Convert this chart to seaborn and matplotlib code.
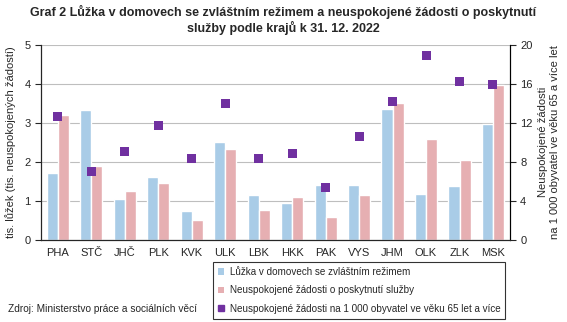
import pandas as pd
import seaborn as sns
import matplotlib.pyplot as plt
import numpy as np
from matplotlib.patches import Patch
from matplotlib.lines import Line2D

# values
kraje = ["PHA", "STČ", "JHČ", "PLK", "KVK", "ULK", "LBK", "HKK", "PAK", "VYS", "JHM", "OLK", "ZLK", "MSK"]
luzka = [1.71, 3.32, 1.05, 1.61, 0.74, 2.51, 1.15, 0.95, 1.41, 1.41, 3.35, 1.18, 1.38, 2.97]
zadosti = [3.20, 1.89, 1.25, 1.46, 0.51, 2.34, 0.77, 1.10, 0.59, 1.15, 3.51, 2.59, 2.05, 3.97]
na1000 = [12.6, 7.0, 9.1, 11.7, 8.3, 14.0, 8.3, 8.9, 5.4, 10.6, 14.2, 18.9, 16.2, 15.9]

lab_luzka = "Lůžka v domovech se zvláštním režimem"
lab_zad = "Neuspokojené žádosti o poskytnutí služby"
lab_1000 = "Neuspokojené žádosti na 1 000 obyvatel ve věku 65 let a více"

c_blue = "#A9CCE7"
c_pink = "#E6AFB2"
c_purple = "#7030A0"

sns.set_style("white")
plt.rcParams['font.family'] = ['Liberation Sans', 'DejaVu Sans']

df = pd.DataFrame({"kraj": kraje * 2,
                   "hodnota": luzka + zadosti,
                   "serie": [lab_luzka] * len(kraje) + [lab_zad] * len(kraje)})
df2 = pd.DataFrame({"kraj": kraje, "na1000": na1000})

fig = plt.figure(figsize=(5.67, 3.22), dpi=100)
ax = fig.add_axes([0.0723, 0.2547, 0.8267, 0.6063])

sns.barplot(data=df, x="kraj", y="hodnota", hue="serie", palette=[c_blue, c_pink],
            width=0.66, gap=0, saturation=1, ax=ax, legend=False)
ax.set_ylim(0, 5)
ax.set_xlim(-0.5, len(kraje) - 0.5)
ax.set_yticks([0, 1, 2, 3, 4, 5])
ax.yaxis.grid(True, color="#BEBEBE", lw=0.8)
ax.set_axisbelow(True)
ax.set_xlabel("")
ax.set_ylabel("tis. lůžek (tis. neuspokojených žádostí)", fontsize=8, labelpad=6)
ax.set_xticks(range(len(kraje)))
ax.set_xticklabels(kraje, fontsize=8)
ax.set_xticks(np.arange(-0.5, len(kraje)), minor=True)
ax.tick_params(axis="x", which="major", length=0, pad=6)
ax.tick_params(axis="x", which="minor", length=4, width=0.8, direction="out")
ax.tick_params(axis="y", labelsize=8, length=4, width=0.8, direction="out", left=True)
ax.spines["top"].set_visible(False)
for s in ["left", "bottom", "right"]:
    ax.spines[s].set_color("black")
    ax.spines[s].set_linewidth(0.8)

ax2 = ax.twinx()
sns.scatterplot(data=df2, x="kraj", y="na1000", marker="s", s=42, color=c_purple,
                edgecolor="none", ax=ax2, legend=False)
ax2.set_ylim(0, 20)
ax2.set_yticks([0, 4, 8, 12, 16, 20])
ax2.set_ylabel("Neuspokojené žádosti\nna 1 000 obyvatel ve věku 65 a více let", fontsize=8, labelpad=4)
ax2.tick_params(axis="y", labelsize=8, length=4, width=0.8, direction="out", right=True)
ax2.spines["top"].set_visible(False)
ax2.spines["right"].set_color("black")
ax2.spines["right"].set_linewidth(0.8)
ax2.set_xlim(-0.5, len(kraje) - 0.5)

fig.suptitle("Graf 2 Lůžka v domovech se zvláštním režimem a neuspokojené žádosti o poskytnutí\nslužby podle krajů k 31. 12. 2022",
             fontsize=9, fontweight="bold", y=0.985, x=0.5)

handles = [Patch(facecolor=c_blue, edgecolor="none"),
           Patch(facecolor=c_pink, edgecolor="none"),
           Line2D([], [], marker="s", ls="none", color=c_purple, markersize=4.5)]
leg = fig.legend(handles, [lab_luzka, lab_zad, lab_1000], loc="upper left",
                 bbox_to_anchor=(213 / 567, 1 - 262 / 322), fontsize=7.1, frameon=True,
                 fancybox=False, edgecolor="black", handlelength=0.6, handleheight=0.6,
                 handletextpad=0.6, labelspacing=0.85, borderpad=0.5, borderaxespad=0)
leg.get_frame().set_linewidth(0.8)

fig.text(8 / 567, 1 - 309 / 322, "Zdroj: Ministerstvo práce a sociálních věcí", fontsize=7.3, va="center")

fig.savefig("out.png", dpi=100)
